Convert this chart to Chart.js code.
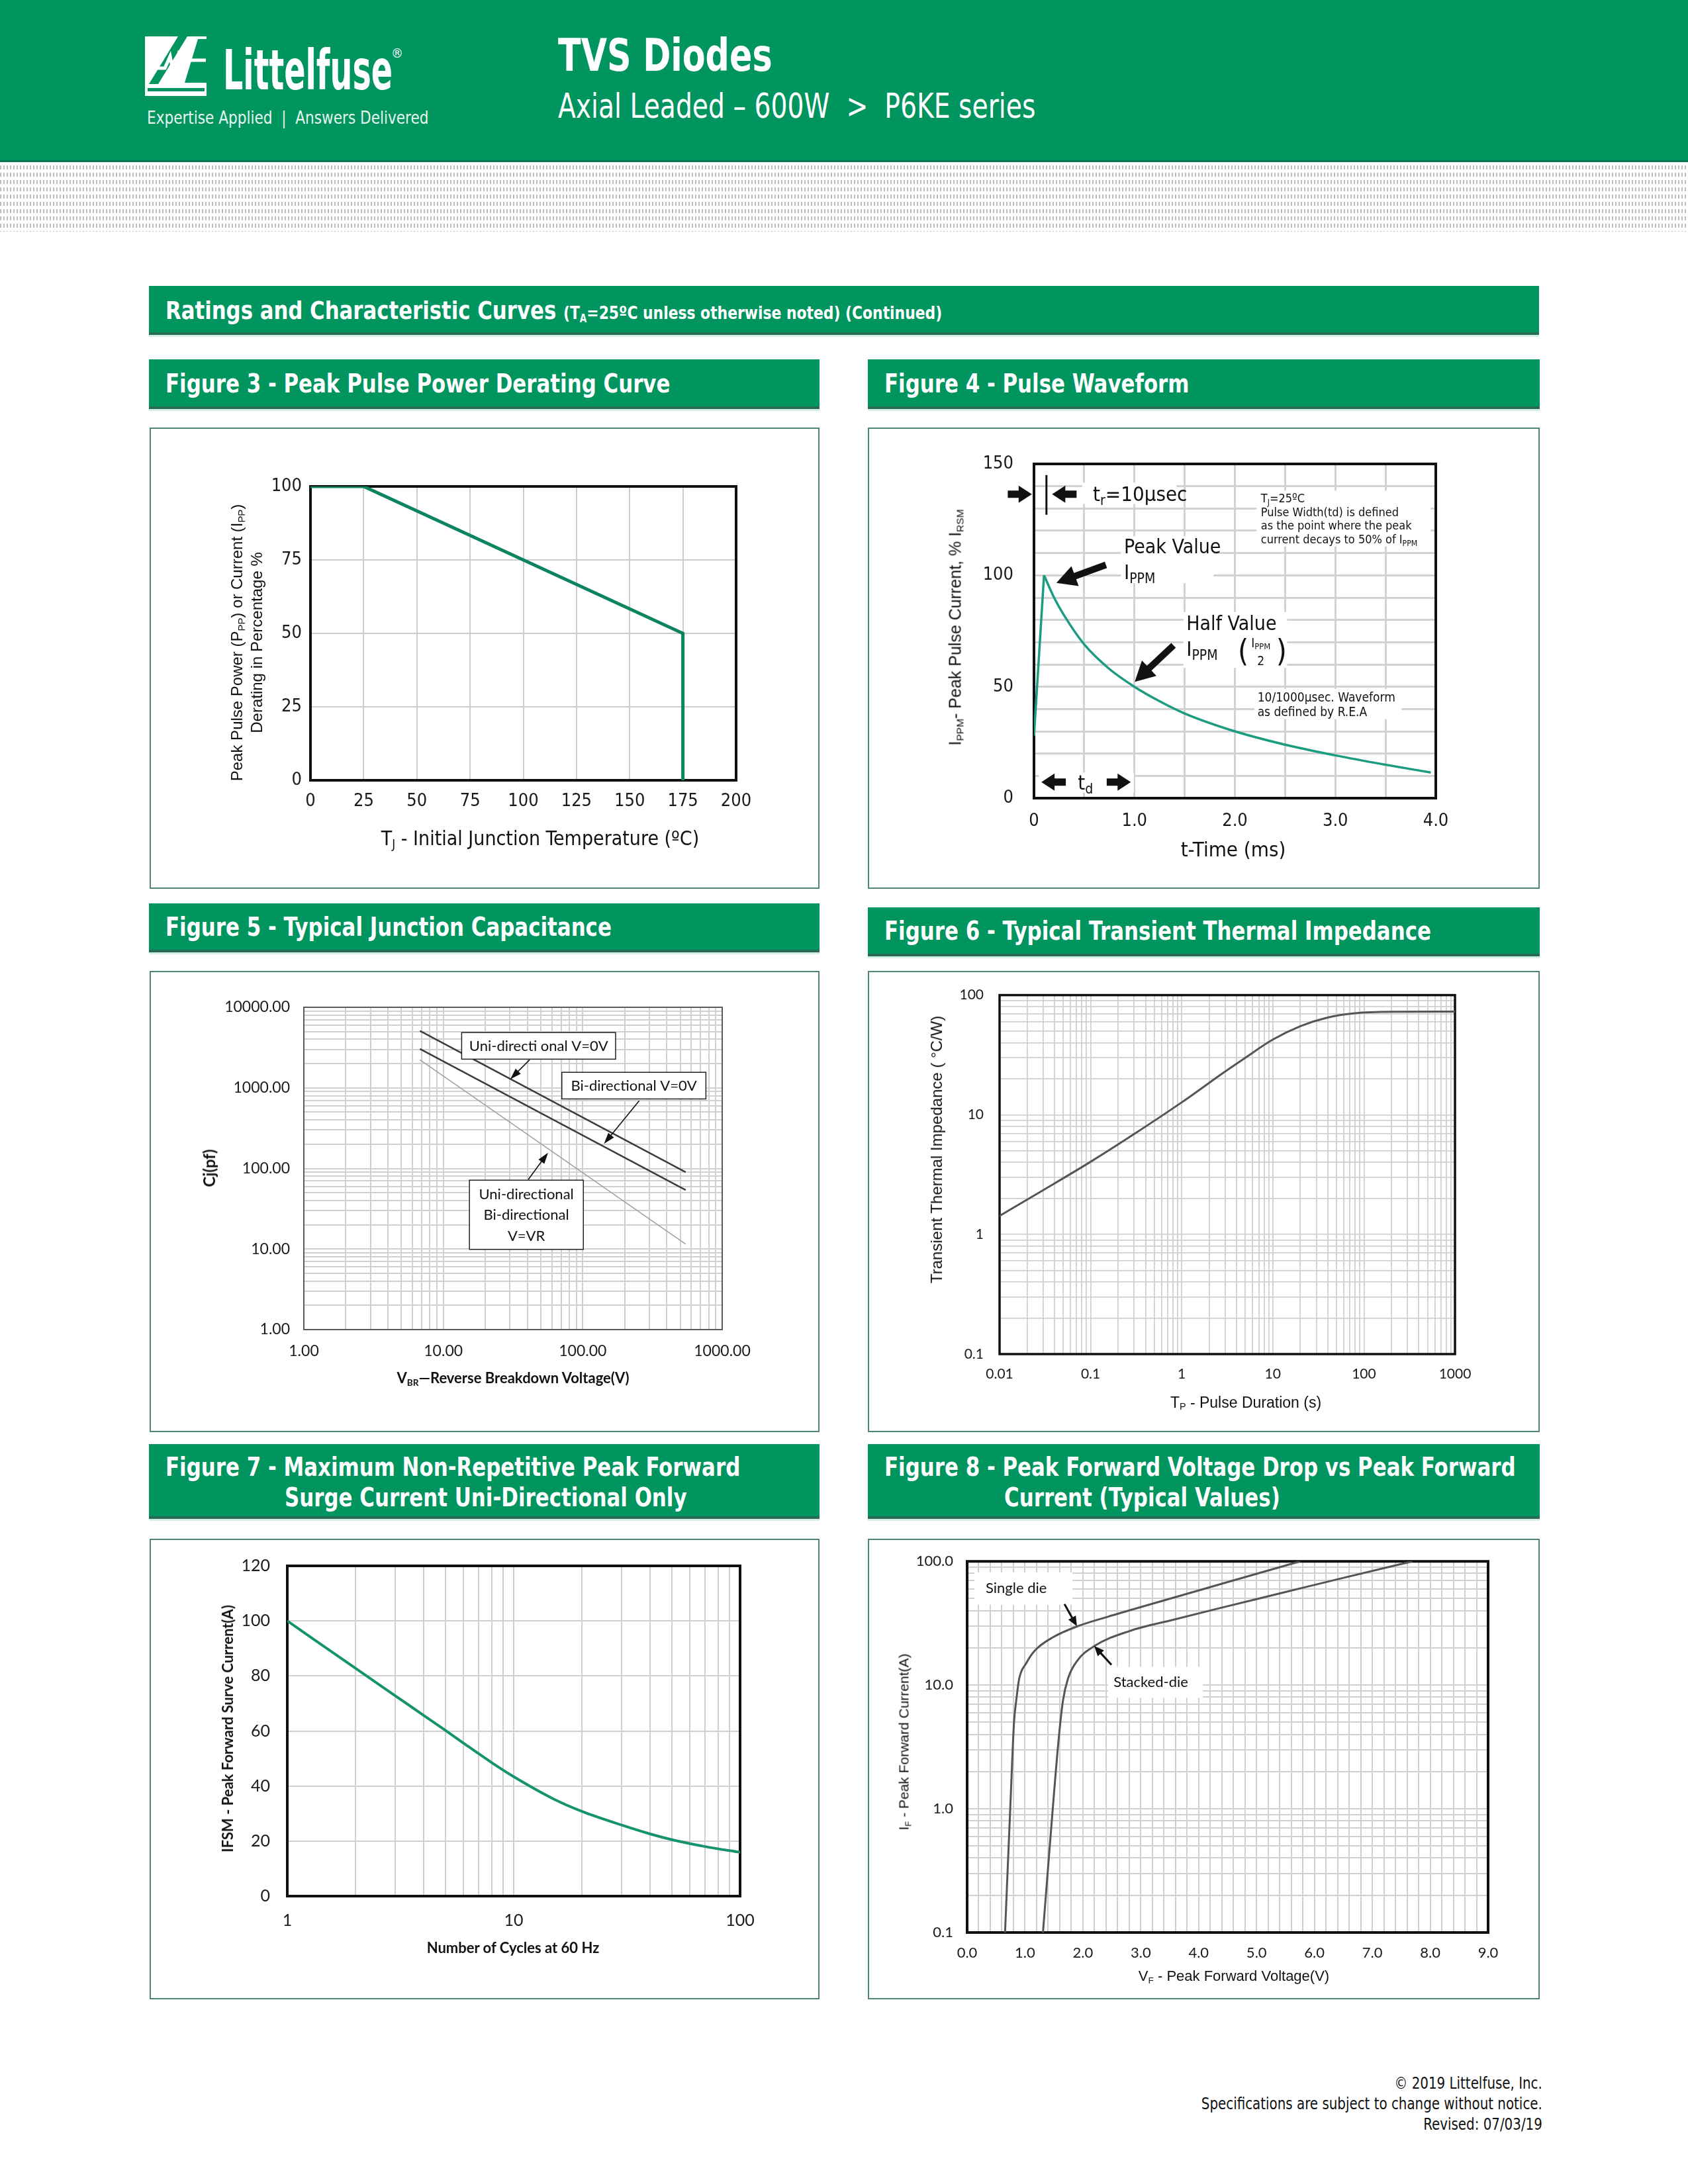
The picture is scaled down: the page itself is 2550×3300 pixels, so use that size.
<!DOCTYPE html>
<html lang="en">
<head>
<meta charset="utf-8">
<title>TVS Diodes - P6KE series - Ratings and Characteristic Curves</title>
<script src="https://cdn.jsdelivr.net/npm/chart.js@4.4.1/dist/chart.umd.min.js"></script>
<style>
  html, body { margin: 0; padding: 0; }
  body { width: 2550px; height: 3300px; position: relative; overflow: hidden; background: #fff;
         font-family: "Liberation Sans Narrow", "DejaVu Sans Condensed", "Liberation Sans", sans-serif; color: #111; }
  .abs { position: absolute; white-space: nowrap; }
  .sq { transform-origin: left top; }
  #band { left: 0; top: 0; width: 2550px; height: 242px; background: #00945f; border-bottom: 3px solid #0a7650; }
  #dots { left: 0; top: 250px; width: 2550px; height: 100px;
          background-image: linear-gradient(to bottom, rgba(255,255,255,0) 0 55%, #fff 55% 100%),
                            linear-gradient(to right, #bdbdbd 0 45%, #fff 45% 100%);
          background-size: 100% 11px, 5px 100%; }
  .bar { position: absolute; background: #00945f; color: #fff; font-weight: bold; box-sizing: border-box;
         border-bottom: 4px solid #286a52; box-shadow: 0 3px 0 #d3eee5; }
  .bar .t { position: absolute; left: 25px; white-space: nowrap; font-size: 39px; line-height: 46px;
            transform: scaleX(0.88); transform-origin: left top; }
  .panel { position: absolute; box-sizing: border-box; border: 2px solid #4d8679; background: #fff; }
  canvas { position: absolute; }
  .ax { position: absolute; white-space: nowrap; transform: translate(-50%, -50%); color: #111; line-height: 1; }
  .ax.rot { transform: translate(-50%, -50%) rotate(-90deg); }
  .ax sub, .bar sub { font-size: 62%; vertical-align: -0.28em; line-height: 0; }
  .arial { font-family: "Liberation Sans", Arial, sans-serif; }
  .cal { font-family: Lato, "Open Sans", sans-serif; font-weight: bold; }
  #footer { right: 220px; top: 3133px; text-align: right; font-size: 24px; line-height: 31px; color: #111;
            transform: scaleX(0.92); transform-origin: right top; }
</style>
</head>
<body>

<!-- header -->
<div id="band" class="abs"></div>
<div id="dots" class="abs"></div>
<svg class="abs" style="left:219px;top:55px" width="93" height="90" viewBox="0 0 93 90">
  <rect x="0" y="0" width="93" height="90" fill="#fff"/>
  <polygon points="50,0 64,0 20,72 6,72" fill="#00945f"/>
  <polygon points="80,4 93,4 93,70 60,70" fill="#00945f"/>
  <polyline points="2,48 30,48 38,30 44,62 52,22 58,58 66,36 92,36" fill="none" stroke="#fff" stroke-width="5"/>
  <rect x="4" y="78" width="86" height="5" fill="#00945f"/>
</svg>
<div class="abs sq" style="left:337px;top:64px;font-size:84px;line-height:84px;font-weight:bold;color:#fff;transform:scaleX(0.63);">Littelfuse</div>
<div class="abs" style="left:591px;top:70px;font-size:20px;line-height:20px;color:#fff;">®</div>
<div class="abs sq" style="left:222px;top:164px;font-size:27px;line-height:27px;color:#e8f6f0;transform:scaleX(0.89);">Expertise Applied&nbsp;&nbsp;|&nbsp;&nbsp;Answers Delivered</div>
<div class="abs sq" style="left:843px;top:50px;font-size:68px;line-height:68px;font-weight:bold;color:#fff;transform:scaleX(0.83);">TVS Diodes</div>
<div class="abs sq" style="left:843px;top:134px;font-size:52px;line-height:52px;color:#fff;transform:scaleX(0.84);">Axial Leaded – 600W &nbsp;&gt;&nbsp; P6KE series</div>

<!-- section bar -->
<div class="bar" style="left:225px;top:432px;width:2100px;height:74px;">
  <div class="t" style="top:14px;font-size:38px;transform:scaleX(0.9);">Ratings and Characteristic Curves <span style="font-size:27px;">(T<sub>A</sub>=25ºC unless otherwise noted) (Continued)</span></div>
</div>

<!-- figure title bars -->
<div class="bar" style="left:225px;top:543px;width:1013px;height:75px;"><div class="t" style="top:14px;">Figure 3 - Peak Pulse Power Derating Curve</div></div>
<div class="bar" style="left:1311px;top:543px;width:1015px;height:75px;"><div class="t" style="top:14px;">Figure 4 - Pulse Waveform</div></div>
<div class="bar" style="left:225px;top:1365px;width:1013px;height:74px;"><div class="t" style="top:13px;">Figure 5 - Typical Junction Capacitance</div></div>
<div class="bar" style="left:1311px;top:1371px;width:1015px;height:74px;"><div class="t" style="top:13px;">Figure 6 - Typical Transient Thermal Impedance</div></div>
<div class="bar" style="left:225px;top:2182px;width:1013px;height:113px;">
  <div class="t" style="top:12px;">Figure 7 - Maximum Non-Repetitive Peak Forward</div>
  <div class="t" style="top:58px;left:205px;">Surge Current Uni-Directional Only</div>
</div>
<div class="bar" style="left:1311px;top:2182px;width:1015px;height:113px;">
  <div class="t" style="top:12px;">Figure 8 - Peak Forward Voltage Drop vs Peak Forward</div>
  <div class="t" style="top:58px;left:206px;">Current (Typical Values)</div>
</div>

<!-- panels -->
<div class="panel" style="left:226px;top:646px;width:1012px;height:697px;"></div>
<div class="panel" style="left:1311px;top:646px;width:1015px;height:697px;"></div>
<div class="panel" style="left:226px;top:1467px;width:1012px;height:697px;"></div>
<div class="panel" style="left:1311px;top:1467px;width:1015px;height:697px;"></div>
<div class="panel" style="left:226px;top:2325px;width:1012px;height:696px;"></div>
<div class="panel" style="left:1311px;top:2325px;width:1015px;height:696px;"></div>

<canvas id="fig3"></canvas>
<canvas id="fig4"></canvas>
<canvas id="fig5"></canvas>
<canvas id="fig6"></canvas>
<canvas id="fig7"></canvas>
<canvas id="fig8"></canvas>

<!-- axis titles -->
<div class="ax" style="left:816px;top:1267px;font-size:30px;">T<sub>J</sub> - Initial Junction Temperature (ºC)</div>
<div class="ax rot arial" style="left:358px;top:971px;font-size:24px;">Peak Pulse Power (P<sub>PP</sub>) or Current (I<sub>PP</sub>)</div>
<div class="ax rot arial" style="left:388px;top:971px;font-size:24px;">Derating in Percentage %</div>

<div class="ax" style="left:1863px;top:1283px;font-size:31px;">t-Time (ms)</div>
<div class="ax rot arial" style="left:1443px;top:948px;font-size:25px;">I<sub>PPM</sub>- Peak Pulse Current, % I<sub>RSM</sub></div>

<div class="ax cal" style="left:775px;top:2082px;font-size:22px;">V<sub>BR</sub>—Reverse Breakdown Voltage(V)</div>
<div class="ax rot cal" style="left:316px;top:1765px;font-size:24px;">Cj(pf)</div>

<div class="ax arial" style="left:1882px;top:2119px;font-size:23px;">T<sub>P</sub> - Pulse Duration (s)</div>
<div class="ax rot arial" style="left:1415px;top:1737px;font-size:24px;">Transient Thermal Impedance (&nbsp;°C/W)</div>

<div class="ax cal" style="left:775px;top:2943px;font-size:22px;">Number of Cycles at 60 Hz</div>
<div class="ax rot cal" style="left:344px;top:2612px;font-size:22px;">IFSM - Peak Forward Surve Current(A)</div>

<div class="ax arial" style="left:1864px;top:2986px;font-size:22px;">V<sub>F</sub> - Peak Forward Voltage(V)</div>
<div class="ax rot arial" style="left:1365px;top:2632px;font-size:21px;">I<sub>F</sub> - Peak Forward Current(A)</div>

<div id="footer" class="abs">© 2019 Littelfuse, Inc.<br>Specifications are subject to change without notice.<br>Revised: 07/03/19</div>

<script>
// Figure 3 - derating curve
const deratingTemp = [0, 25, 175, 175];
const deratingPct = [100, 100, 50, 0];
const deratingTempTicks = [0, 25, 50, 75, 100, 125, 150, 175, 200];
const deratingPctTicks = [0, 25, 50, 75, 100];

// Figure 4 - pulse waveform (rise, then decay)
const pulseRiseTime = [0, 0.1];
const pulseRiseCurrent = [28, 100];
const pulseDecayTime = [0.1, 0.2, 0.3, 0.5, 0.75, 1.0, 1.25, 1.5, 2.0, 2.5, 3.0, 3.5, 3.95];
const pulseDecayCurrent = [100, 90, 82, 69, 58, 50, 43.5, 38, 30, 24, 19.2, 15, 11.5];
const pulseTimeTicks = [0, 1, 2, 3, 4];
const pulseTimeLabels = ['0', '1.0', '2.0', '3.0', '4.0'];
const pulseCurrentTicks = [0, 50, 100, 150];

// Figure 5 - junction capacitance
const capVoltage = [6.8, 547];
const capUniZero = [5100, 90];
const capBiZero = [3050, 54];
const capAtVR = [2230, 11.5];
const capVoltTicks = [1, 10, 100, 1000];
const capVoltLabels = ['1.00', '10.00', '100.00', '1000.00'];
const capTicks = [1, 10, 100, 1000, 10000];
const capLabels = ['1.00', '10.00', '100.00', '1000.00', '10000.00'];

// Figure 6 - transient thermal impedance
const thermDuration = [0.01, 0.03, 0.1, 0.3, 1, 3, 5, 10, 20, 40, 80, 200, 1000];
const thermImpedance = [1.43, 2.34, 4.05, 6.9, 12.7, 23, 30, 42.5, 55, 65, 70.5, 72.5, 72.8];
const thermDurationTicks = [0.01, 0.1, 1, 10, 100, 1000];
const thermDurationLabels = ['0.01', '0.1', '1', '10', '100', '1000'];
const thermTicks = [0.1, 1, 10, 100];
const thermLabels = ['0.1', '1', '10', '100'];

// Figure 7 - surge current
const surgeCycles = [1, 2, 3, 4, 5, 6, 8, 10, 15, 20, 30, 40, 50, 70, 100];
const surgeCurrent = [100, 82.8, 72.8, 65.7, 60.2, 55.6, 48.5, 43.4, 35.3, 30.8, 25.8, 22.6, 20.5, 18, 15.9];
const surgeCycleTicks = [1, 10, 100];
const surgeCycleLabels = ['1', '10', '100'];
const surgeCurrentTicks = [0, 20, 40, 60, 80, 100, 120];

// Figure 8 - forward voltage vs forward current
const singleVolt = [0.655, 0.75, 0.81, 0.85, 0.90, 1.02, 1.17, 1.48, 1.90, 2.43, 3.19, 4.34, 5.75];
const singleAmp = [0.1, 1.15, 5.0, 7.6, 11.3, 15, 19, 24.3, 29.8, 35.7, 45.3, 64.7, 100];
const stackedVolt = [1.31, 1.44, 1.58, 1.656, 1.743, 1.896, 2.2, 2.81, 3.57, 4.34, 5.5, 6.5, 7.69];
const stackedAmp = [0.1, 0.59, 3.6, 7.5, 11.3, 15.6, 20.7, 27.4, 33.8, 41.6, 56.5, 73.6, 100];
const fwdVoltTicks = [0, 1, 2, 3, 4, 5, 6, 7, 8, 9];
const fwdVoltLabels = ['0.0', '1.0', '2.0', '3.0', '4.0', '5.0', '6.0', '7.0', '8.0', '9.0'];
const fwdAmpTicks = [0.1, 1, 10, 100];
const fwdAmpLabels = ['0.1', '1.0', '10.0', '100.0'];

const NARROW = '"Liberation Sans Narrow", "DejaVu Sans Condensed", sans-serif';
const CAL = 'Lato, "Open Sans", sans-serif';

function pts(xs, ys) { return xs.map((x, i) => ({ x: x, y: ys[i] })); }

// grid positions for a log axis: 1..9 per decade
function logGrid(min, max) {
    const out = [];
    for (let e = Math.floor(Math.log10(min)); e <= Math.ceil(Math.log10(max)); e++) {
        for (let d = 1; d <= 9; d++) {
            const v = Number((d * Math.pow(10, e)).toPrecision(6));
            if (v >= min * 0.9999 && v <= max * 1.0001) out.push(v);
        }
    }
    return out;
}
function stepGrid(min, max, step) {
    const out = [];
    const n = Math.round((max - min) / step);
    for (let i = 0; i <= n; i++) out.push(Number((min + i * step).toFixed(6)));
    return out;
}

function axis(a) {
    const lab = new Map(a.ticks.map((v, i) => [v, a.labels ? a.labels[i] : String(v)]));
    return {
        type: a.type || 'linear', min: a.min, max: a.max,
        afterBuildTicks: s => { s.ticks = a.grid.map(v => ({ value: v })); },
        afterFit: s => { if (s.isHorizontal()) s.height = a.size; else s.width = a.size; },
        ticks: {
            autoSkip: false, maxRotation: 0, minRotation: 0, padding: a.pad, color: '#1a1a1a',
            font: { family: a.font, size: a.fs },
            callback: v => (lab.has(v) ? lab.get(v) : '')
        },
        grid: { color: a.gc, lineWidth: a.gw, drawTicks: false },
        border: { display: false }
    };
}

// ---- annotation drawing (positions in data units) ----
function P(chart, x, y) {
    return [chart.scales.x.getPixelForValue(x), chart.scales.y.getPixelForValue(y)];
}

function drawText(ctx, x, y, it) {
    const size = it.size, fam = it.fam || NARROW, wt = it.bold ? 'bold ' : '';
    const segs = typeof it.t === 'string' ? [[it.t]] : it.t;
    const parts = segs.map(s => {
        const sub = s[1] === 'sub';
        const fs = sub ? size * 0.68 : size;
        ctx.font = wt + fs + 'px ' + fam;
        return { s: s[0], sub: sub, fs: fs, w: ctx.measureText(s[0]).width };
    });
    const total = parts.reduce((a, p) => a + p.w, 0);
    let cx = it.align === 'center' ? x - total / 2 : (it.align === 'right' ? x - total : x);
    const base = y + size * 0.36;
    ctx.fillStyle = it.color || '#111';
    ctx.textAlign = 'left';
    ctx.textBaseline = 'alphabetic';
    parts.forEach(p => {
        ctx.font = wt + p.fs + 'px ' + fam;
        ctx.fillText(p.s, cx, p.sub ? base + size * 0.2 : base);
        cx += p.w;
    });
}

function drawItem(chart, it) {
    const ctx = chart.ctx;
    ctx.save();
    if (it.k === 'rect') {
        const a = P(chart, it.x1, it.y1), b = P(chart, it.x2, it.y2);
        const l = Math.min(a[0], b[0]), t = Math.min(a[1], b[1]);
        const w = Math.abs(b[0] - a[0]), h = Math.abs(b[1] - a[1]);
        ctx.fillStyle = it.fill || '#fff';
        ctx.fillRect(l, t, w, h);
        if (it.stroke) { ctx.strokeStyle = it.stroke; ctx.lineWidth = it.lw || 2; ctx.strokeRect(l, t, w, h); }
    } else if (it.k === 'line') {
        const a = P(chart, it.x1, it.y1), b = P(chart, it.x2, it.y2);
        ctx.strokeStyle = it.color || '#111';
        ctx.lineWidth = it.lw || 2;
        ctx.beginPath(); ctx.moveTo(a[0], a[1]); ctx.lineTo(b[0], b[1]); ctx.stroke();
    } else if (it.k === 'arrow') {
        const a = P(chart, it.x1, it.y1), b = P(chart, it.x2, it.y2);
        const len = Math.hypot(b[0] - a[0], b[1] - a[1]);
        const hl = it.hl, hw = it.hw, sw = it.sw;
        ctx.translate(a[0], a[1]);
        ctx.rotate(Math.atan2(b[1] - a[1], b[0] - a[0]));
        ctx.fillStyle = it.color || '#111';
        ctx.beginPath();
        ctx.moveTo(0, -sw / 2); ctx.lineTo(len - hl, -sw / 2); ctx.lineTo(len - hl, -hw / 2);
        ctx.lineTo(len, 0);
        ctx.lineTo(len - hl, hw / 2); ctx.lineTo(len - hl, sw / 2); ctx.lineTo(0, sw / 2);
        ctx.closePath(); ctx.fill();
    } else if (it.k === 'text') {
        const a = P(chart, it.x, it.y);
        drawText(ctx, a[0], a[1], it);
    }
    ctx.restore();
}

function decor(frame, under, over) {
    return {
        id: 'decor',
        beforeDatasetsDraw(chart) {
            under.forEach(it => drawItem(chart, it));
            if (frame) {
                const a = chart.chartArea, ctx = chart.ctx;
                ctx.save();
                ctx.strokeStyle = frame.color;
                ctx.lineWidth = frame.width;
                ctx.strokeRect(a.left, a.top, a.right - a.left, a.bottom - a.top);
                ctx.restore();
            }
        },
        afterDatasetsDraw(chart) { over.forEach(it => drawItem(chart, it)); }
    };
}

// panel & plot rectangles: [left, top, right, bottom] in page pixels
function buildChart(id, panel, plot, cfg) {
    const cv = document.getElementById(id);
    const w = panel[2] - panel[0], h = panel[3] - panel[1];
    cv.width = w; cv.height = h;
    cv.style.left = panel[0] + 'px'; cv.style.top = panel[1] + 'px';
    cv.style.width = w + 'px'; cv.style.height = h + 'px';
    cfg.x.size = panel[3] - plot[3];
    cfg.y.size = plot[0] - panel[0];
    return new Chart(cv, {
        type: 'line',
        data: { datasets: cfg.datasets },
        options: {
            responsive: false,
            animation: false,
            layout: { padding: { left: 0, top: plot[1] - panel[1], right: panel[2] - plot[2], bottom: 0 } },
            plugins: { legend: { display: false }, tooltip: { enabled: false } },
            elements: { point: { radius: 0 } },
            scales: { x: axis(cfg.x), y: axis(cfg.y) }
        },
        plugins: [decor(cfg.frame, cfg.under || [], cfg.over || [])]
    });
}

function ds(data, color, width, smooth) {
    return {
        data: data, borderColor: color, borderWidth: width, fill: false, pointRadius: 0,
        tension: 0, cubicInterpolationMode: smooth ? 'monotone' : 'default'
    };
}

// ---------- Figure 3 ----------
buildChart('fig3', [226, 646, 1238, 1343], [469, 735, 1112, 1179], {
    x: { min: 0, max: 200, grid: deratingTempTicks, ticks: deratingTempTicks, font: NARROW, fs: 27, pad: 16, gc: '#cccccc', gw: 2 },
    y: { min: 0, max: 100, grid: deratingPctTicks, ticks: deratingPctTicks, font: NARROW, fs: 27, pad: 13, gc: '#cccccc', gw: 2 },
    frame: { color: '#111', width: 4 },
    datasets: [ds(pts(deratingTemp, deratingPct), '#0c8462', 5, false)]
});

// ---------- Figure 4 ----------
const blk = { hl: 20, hw: 26, sw: 11 };
buildChart('fig4', [1311, 646, 2326, 1343], [1562, 701, 2169, 1206], {
    x: { min: 0, max: 4, grid: stepGrid(0, 4, 0.5), ticks: pulseTimeTicks, labels: pulseTimeLabels, font: NARROW, fs: 27, pad: 19, gc: '#d2d2d2', gw: 3 },
    y: { min: 0, max: 150, grid: stepGrid(0, 150, 10), ticks: pulseCurrentTicks, font: NARROW, fs: 27, pad: 31, gc: '#d2d2d2', gw: 3 },
    frame: { color: '#111', width: 4 },
    datasets: [
        ds(pts(pulseRiseTime, pulseRiseCurrent), '#1b9c80', 3.5, false),
        ds(pts(pulseDecayTime, pulseDecayCurrent), '#1b9c80', 3.5, true)
    ],
    under: [
        { k: 'rect', x1: 0.48, y1: 141.6, x2: 1.42, y2: 132.0 },
        { k: 'rect', x1: 2.216, y1: 138, x2: 3.95, y2: 113.0 },
        { k: 'rect', x1: 0.866, y1: 117.5, x2: 1.787, y2: 96.5 },
        { k: 'rect', x1: 1.487, y1: 83.5, x2: 2.52, y2: 58.5 },
        { k: 'rect', x1: 2.195, y1: 49, x2: 3.66, y2: 35.5 },
        { k: 'rect', x1: 0.05, y1: 11.5, x2: 0.994, y2: 2.5 }
    ],
    over: [
        { k: 'line', x1: 0.124, y1: 145, x2: 0.124, y2: 127.2, lw: 3 },
        Object.assign({ k: 'arrow', x1: -0.261, y1: 136.4, x2: -0.021, y2: 136.4 }, blk),
        Object.assign({ k: 'arrow', x1: 0.424, y1: 136.4, x2: 0.18, y2: 136.4 }, blk),
        { k: 'text', x: 0.587, y: 136.8, size: 31, t: [['t'], ['r', 'sub'], ['=10µsec']] },
        { k: 'text', x: 2.259, y: 134.7, size: 18, t: [['T'], ['J', 'sub'], ['=25ºC']] },
        { k: 'text', x: 2.259, y: 128.6, size: 18, t: 'Pulse Width(td) is defined' },
        { k: 'text', x: 2.259, y: 122.5, size: 18, t: 'as the point where the peak' },
        { k: 'text', x: 2.259, y: 116.3, size: 18, t: [['current decays to 50% of I'], ['PPM', 'sub']] },
        { k: 'text', x: 0.896, y: 113.2, size: 30, t: 'Peak Value' },
        { k: 'text', x: 0.896, y: 101.7, size: 31, t: [['I'], ['PPM', 'sub']] },
        { k: 'arrow', x1: 0.716, y1: 104.7, x2: 0.223, y2: 96.6, hl: 30, hw: 32, sw: 10 },
        { k: 'text', x: 1.517, y: 78.8, size: 30, t: 'Half Value' },
        { k: 'text', x: 1.517, y: 67.2, size: 31, t: [['I'], ['PPM', 'sub']] },
        { k: 'text', x: 2.03, y: 66.3, size: 46, t: '(' },
        { k: 'text', x: 2.259, y: 69.9, size: 19, align: 'center', t: [['I'], ['PPM', 'sub']] },
        { k: 'text', x: 2.259, y: 61.8, size: 19, align: 'center', t: '2' },
        { k: 'text', x: 2.41, y: 66.3, size: 46, t: ')' },
        { k: 'arrow', x1: 1.389, y1: 68.6, x2: 1.003, y2: 52.2, hl: 30, hw: 32, sw: 10 },
        { k: 'text', x: 2.225, y: 45.4, size: 19, t: '10/1000µsec. Waveform' },
        { k: 'text', x: 2.225, y: 38.9, size: 19, t: 'as defined by R.E.A' },
        Object.assign({ k: 'arrow', x1: 0.317, y1: 7.2, x2: 0.073, y2: 7.2 }, blk),
        { k: 'text', x: 0.437, y: 7.2, size: 31, t: [['t'], ['d', 'sub']] },
        Object.assign({ k: 'arrow', x1: 0.724, y1: 7.2, x2: 0.964, y2: 7.2 }, blk)
    ]
});

// ---------- Figure 5 ----------
const thin = { hl: 17, hw: 11, sw: 1.6 };
buildChart('fig5', [226, 1467, 1238, 2164], [459, 1522, 1091, 2009], {
    x: { type: 'logarithmic', min: 1, max: 1000, grid: logGrid(1, 1000), ticks: capVoltTicks, labels: capVoltLabels, font: CAL, fs: 23, pad: 19, gc: '#d0d0d0', gw: 2 },
    y: { type: 'logarithmic', min: 1, max: 10000, grid: logGrid(1, 10000), ticks: capTicks, labels: capLabels, font: CAL, fs: 23, pad: 21, gc: '#d0d0d0', gw: 2 },
    frame: { color: '#5a5a5a', width: 2 },
    datasets: [
        ds(pts(capVoltage, capUniZero), '#3c3c3c', 2.5, false),
        ds(pts(capVoltage, capBiZero), '#3c3c3c', 2.5, false),
        ds(pts(capVoltage, capAtVR), '#a0a0a0', 1.6, false)
    ],
    over: [
        { k: 'rect', x1: 13.54, y1: 4861, x2: 172, y2: 2271, stroke: '#222', lw: 1.5 },
        { k: 'text', x: 48.3, y: 3320, size: 22, fam: CAL, align: 'center', t: 'Uni-directi onal V=0V' },
        Object.assign({ k: 'arrow', x1: 41.6, y1: 2228, x2: 30.2, y2: 1280 }, thin),
        { k: 'rect', x1: 70.8, y1: 1560, x2: 764, y2: 729, stroke: '#222', lw: 1.5 },
        { k: 'text', x: 232.5, y: 1067, size: 22, fam: CAL, align: 'center', t: 'Bi-directional V=0V' },
        Object.assign({ k: 'arrow', x1: 254, y1: 693, x2: 142, y2: 202 }, thin),
        { k: 'rect', x1: 15.4, y1: 71.5, x2: 101, y2: 9.9, stroke: '#222', lw: 1.5 },
        { k: 'text', x: 39.4, y: 48.1, size: 22, fam: CAL, align: 'center', t: 'Uni-directional' },
        { k: 'text', x: 39.4, y: 26.6, size: 22, fam: CAL, align: 'center', t: 'Bi-directional' },
        { k: 'text', x: 39.4, y: 14.7, size: 22, fam: CAL, align: 'center', t: 'V=VR' },
        Object.assign({ k: 'arrow', x1: 40.7, y1: 72.9, x2: 56.4, y2: 157 }, thin)
    ]
});

// ---------- Figure 6 ----------
buildChart('fig6', [1311, 1467, 2326, 2164], [1510, 1500, 2198, 2046], {
    x: { type: 'logarithmic', min: 0.01, max: 1000, grid: logGrid(0.01, 1000), ticks: thermDurationTicks, labels: thermDurationLabels, font: CAL, fs: 21, pad: 18, gc: '#d0d0d0', gw: 1.8 },
    y: { type: 'logarithmic', min: 0.1, max: 100, grid: logGrid(0.1, 100), ticks: thermTicks, labels: thermLabels, font: CAL, fs: 21, pad: 24, gc: '#d0d0d0', gw: 1.8 },
    frame: { color: '#111', width: 3.5 },
    datasets: [ds(pts(thermDuration, thermImpedance), '#555555', 3, true)]
});

// ---------- Figure 7 ----------
buildChart('fig7', [226, 2325, 1238, 3021], [434, 2356, 1118, 2865], {
    x: { type: 'logarithmic', min: 1, max: 100, grid: logGrid(1, 100), ticks: surgeCycleTicks, labels: surgeCycleLabels, font: CAL, fs: 25, pad: 22, gc: '#d0d0d0', gw: 2 },
    y: { min: 0, max: 120, grid: surgeCurrentTicks, ticks: surgeCurrentTicks, font: CAL, fs: 25, pad: 26, gc: '#d0d0d0', gw: 2 },
    frame: { color: '#111', width: 4 },
    datasets: [ds(pts(surgeCycles, surgeCurrent), '#14936e', 4, true)]
});

// ---------- Figure 8 ----------
const small = { hl: 15, hw: 13, sw: 3 };
buildChart('fig8', [1311, 2325, 2326, 3021], [1461, 2350, 2248, 2920], {
    x: { min: 0, max: 9, grid: stepGrid(0, 9, 0.2), ticks: fwdVoltTicks, labels: fwdVoltLabels, font: CAL, fs: 22, pad: 18, gc: '#d0d0d0', gw: 2 },
    y: { type: 'logarithmic', min: 0.1, max: 100, grid: logGrid(0.1, 100), ticks: fwdAmpTicks, labels: fwdAmpLabels, font: CAL, fs: 22, pad: 21, gc: '#d0d0d0', gw: 2 },
    frame: { color: '#111', width: 4 },
    datasets: [
        ds(pts(singleVolt, singleAmp), '#555555', 3, true),
        ds(pts(stackedVolt, stackedAmp), '#555555', 3, true)
    ],
    under: [
        { k: 'rect', x1: 0.125, y1: 81.5, x2: 1.82, y2: 44.6 },
        { k: 'rect', x1: 2.435, y1: 14, x2: 4.073, y2: 7.9 }
    ],
    over: [
        { k: 'text', x: 0.32, y: 61.2, size: 22, fam: CAL, t: 'Single die' },
        Object.assign({ k: 'arrow', x1: 1.682, y1: 45.1, x2: 1.897, y2: 29.9 }, small),
        { k: 'text', x: 2.53, y: 10.6, size: 22, fam: CAL, t: 'Stacked-die' },
        Object.assign({ k: 'arrow', x1: 2.493, y1: 14.6, x2: 2.195, y2: 20.7 }, small)
    ]
});
</script>
</body>
</html>
